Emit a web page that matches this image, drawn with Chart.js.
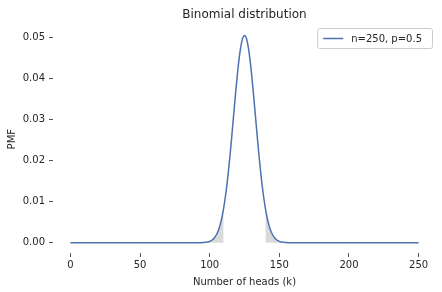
<!DOCTYPE html>
<html>
<head>
<meta charset="utf-8">
<script src="https://cdn.jsdelivr.net/npm/chart.js@4"></script>
<style>
  html, body { margin: 0; padding: 0; background: #fff; }
  #wrap { width: 442px; height: 292px; }
</style>
</head>
<body>
<div id="wrap"><canvas id="myChart" width="442" height="292"></canvas></div>
<script>
// valores (k = número de caras)
const heads = [0,
  90, 91, 92, 93, 94, 95, 96, 97, 98, 99,
  100, 101, 102, 103, 104, 105, 106, 107, 108, 109,
  110, 111, 112, 113, 114, 115, 116, 117, 118, 119,
  120, 121, 122, 123, 124, 125, 126, 127, 128, 129,
  130, 131, 132, 133, 134, 135, 136, 137, 138, 139,
  140, 141, 142, 143, 144, 145, 146, 147, 148, 149,
  150, 151, 152, 153, 154, 155, 156, 157, 158, 159,
  160, 250];
const pmf = [0,
  0.000003, 0.000005, 0.000008, 0.000014, 0.000023, 0.000038, 0.00006, 0.000095, 0.000148, 0.000226,
  0.00034, 0.000503, 0.000733, 0.00105, 0.00148, 0.00206, 0.00281, 0.00378, 0.005, 0.00651,
  0.00835, 0.01053, 0.01306, 0.01596, 0.01918, 0.02269, 0.02642, 0.03026, 0.03412, 0.03786,
  0.04134, 0.04443, 0.04699, 0.0489, 0.05006, 0.05046, 0.05006, 0.0489, 0.04699, 0.04443,
  0.04134, 0.03786, 0.03412, 0.03026, 0.02642, 0.02269, 0.01918, 0.01596, 0.01306, 0.01053,
  0.00835, 0.00651, 0.005, 0.00378, 0.00281, 0.00206, 0.00148, 0.00105, 0.000733, 0.000503,
  0.00034, 0.000226, 0.000148, 0.000095, 0.00006, 0.000038, 0.000023, 0.000014, 0.000008, 0.000005,
  0.000003, 0];
const leftTailMax = 110;
const rightTailMin = 140;
const xTicks = [0, 50, 100, 150, 200, 250];
const yTicks = [0, 0.01, 0.02, 0.03, 0.04, 0.05];
const seriesLabel = "n=250, p=0.5";

const points = heads.map((k, i) => ({ x: k, y: pmf[i] }));
const leftTail = points.filter(p => p.x <= leftTailMax);
const rightTail = points.filter(p => p.x >= rightTailMin);

const FONT = "'DejaVu Sans', sans-serif";
const BLUE = "#4c72b0";

// leyenda dentro del área del gráfico, con marco
const legendBox = {
  id: "legendBox",
  afterDraw(chart) {
    const { ctx, chartArea } = chart;
    ctx.save();
    ctx.font = "10px " + FONT;
    const tw = ctx.measureText(seriesLabel).width;
    const w = tw + 44, h = 20;
    const x = chartArea.right - w - 4, y = 28;
    ctx.fillStyle = "rgba(255,255,255,0.8)";
    ctx.strokeStyle = "#cccccc";
    ctx.lineWidth = 1;
    ctx.beginPath();
    ctx.roundRect(x + 0.5, y + 0.5, w, h, 2);
    ctx.fill();
    ctx.stroke();
    ctx.strokeStyle = BLUE;
    ctx.lineWidth = 1.5;
    ctx.beginPath();
    ctx.moveTo(x + 6, y + h / 2 + 0.5);
    ctx.lineTo(x + 26, y + h / 2 + 0.5);
    ctx.stroke();
    ctx.fillStyle = "#262626";
    ctx.textBaseline = "middle";
    ctx.fillText(seriesLabel, x + 34, y + h / 2 + 1);
    ctx.restore();
  }
};

new Chart(document.getElementById("myChart"), {
  type: "line",
  data: {
    datasets: [
      {
        label: seriesLabel,
        data: points,
        borderColor: BLUE,
        borderWidth: 1.5,
        pointRadius: 0,
        tension: 0.3,
        fill: false,
        order: 0,
      },
      {
        label: "left tail",
        data: leftTail,
        borderWidth: 0,
        pointRadius: 0,
        tension: 0.3,
        backgroundColor: "rgba(150,150,150,0.35)",
        fill: "origin",
        order: 1,
      },
      {
        label: "right tail",
        data: rightTail,
        borderWidth: 0,
        pointRadius: 0,
        tension: 0.3,
        backgroundColor: "rgba(150,150,150,0.35)",
        fill: "origin",
        order: 1,
      },
    ],
  },
  options: {
    responsive: false,
    animation: false,
    layout: { padding: { left: 6, right: 6, top: 4, bottom: 4 } },
    plugins: {
      legend: { display: false },
      tooltip: { enabled: false },
      title: {
        display: true,
        text: "Binomial distribution",
        fullSize: false,
        color: "#262626",
        font: { family: FONT, size: 12, weight: "normal" },
        padding: { top: 4, bottom: 3 },
      },
    },
    scales: {
      x: {
        type: "linear",
        min: -12.5,
        max: 262.5,
        afterBuildTicks: (s) => { s.ticks = xTicks.map(v => ({ value: v })); },
        border: { display: false },
        grid: { drawOnChartArea: false, drawTicks: true, tickLength: 4, color: "#555" },
        ticks: { color: "#262626", font: { family: FONT, size: 10 }, padding: 2 },
        title: { display: true, text: "Number of heads (k)", color: "#262626", font: { family: FONT, size: 10 }, padding: { top: 3, bottom: 0 } },
      },
      y: {
        min: -0.0025,
        max: 0.0529,
        afterBuildTicks: (s) => { s.ticks = yTicks.map(v => ({ value: v })); },
        border: { display: false },
        grid: { drawOnChartArea: false, drawTicks: true, tickLength: 4, color: "#555" },
        ticks: { color: "#262626", font: { family: FONT, size: 10 }, padding: 4, callback: (v) => v.toFixed(2) },
        title: { display: true, text: "PMF", color: "#262626", font: { family: FONT, size: 10 }, padding: { top: 0, bottom: 4 } },
        afterFit: (s) => { s.width = 47; },
      },
    },
  },
  plugins: [legendBox],
});
</script>
</body>
</html>
